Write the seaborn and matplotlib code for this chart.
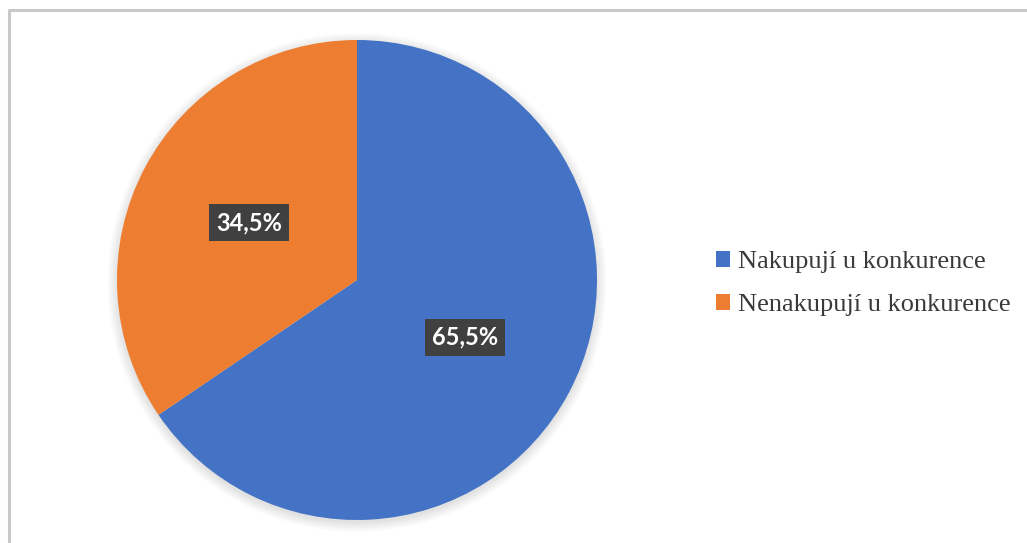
import matplotlib
matplotlib.use("Agg")
import matplotlib.pyplot as plt
import seaborn as sns
import numpy as np
from matplotlib.lines import Line2D
from matplotlib.patches import Patch, Circle

categories = ["Nakupují u konkurence", "Nenakupují u konkurence"]
values = [65.5, 34.5]
labels = ["65,5%", "34,5%"]

sns.set_theme(style="white")
plt.rcParams['font.family'] = ['DejaVu Sans']
colors = sns.color_palette(["#4472C4", "#ED7D31"])

W, H = 1027, 543
fig = plt.figure(figsize=(W / 100, H / 100), dpi=100)
fig.patch.set_facecolor("white")

# chart border (top and left visible)
fig.add_artist(Line2D([9 / W, 9 / W, 1.0], [0.0, 1 - 10 / H, 1 - 10 / H],
                      transform=fig.transFigure, color="#c9c9c9", lw=2.2))

cx, cy, r = 357, 280, 240
ax = fig.add_axes([(cx - r) / W, 1 - (cy + r) / H, 2 * r / W, 2 * r / H])

# soft shadow
for s in np.linspace(1.04, 1.0, 10):
    ax.add_patch(Circle((0.0, -0.01), s, color="black", alpha=0.012, lw=0,
                        zorder=0, clip_on=False))

wedges, texts = ax.pie(values, colors=colors, startangle=90, counterclock=False,
                       radius=1, wedgeprops=dict(linewidth=0, clip_on=False), labels=None)
ax.set_xlim(-1, 1)
ax.set_ylim(-1, 1)
ax.set_aspect("equal")
ax.axis("off")

for w, lab in zip(wedges, labels):
    ang = np.deg2rad((w.theta1 + w.theta2) / 2)
    d = 0.51
    ax.text(d * np.cos(ang), d * np.sin(ang), lab, ha="center", va="center",
            color="white", fontsize=17, fontweight="bold", family=["Lato", "DejaVu Sans"],
            bbox=dict(boxstyle="square,pad=0.3", facecolor="#404040", edgecolor="none"),
            zorder=5)

handles = [Patch(facecolor=c, edgecolor="none") for c in colors]
leg = fig.legend(handles, categories, loc="center left",
                 bbox_to_anchor=(692 / W, 1 - 283.5 / H), frameon=False,
                 prop=dict(family="Liberation Serif", size=19),
                 handlelength=0.55, handleheight=0.55, handletextpad=0.3,
                 labelspacing=0.8, labelcolor="#3a3a3a")

fig.savefig("out.png", dpi=100, facecolor="white")
